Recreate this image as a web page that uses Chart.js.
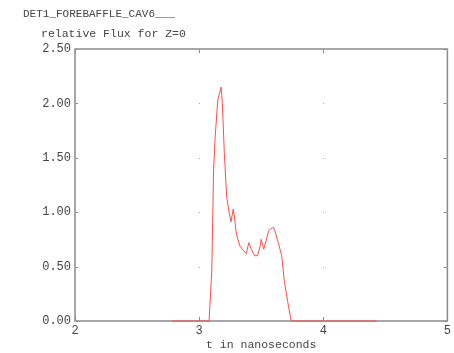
<!DOCTYPE html>
<html>
<head>
<meta charset="utf-8">
<script src="https://cdn.jsdelivr.net/npm/chart.js@4.4.1/dist/chart.umd.min.js"></script>
<style>
  html, body { margin: 0; padding: 0; background: #fff; }
  canvas { display: block; }
</style>
</head>
<body>
<canvas id="fluxChart" width="454" height="353"></canvas>
<script>
// values
var tValues = [2.78, 3.08, 3.102, 3.116, 3.129, 3.15, 3.177, 3.187, 3.203, 3.222, 3.24, 3.256, 3.275, 3.288, 3.30, 3.328, 3.355, 3.38, 3.40, 3.42, 3.447, 3.47, 3.49, 3.50, 3.52, 3.54, 3.56, 3.58, 3.60, 3.61, 3.63, 3.647, 3.665, 3.686, 3.713, 3.74, 3.745, 4.43];
var fluxValues = [0, 0, 0.46, 1.38, 1.69, 2.03, 2.15, 2.0, 1.54, 1.14, 1.01, 0.91, 1.03, 0.92, 0.80, 0.69, 0.65, 0.62, 0.72, 0.66, 0.60, 0.60, 0.68, 0.75, 0.66, 0.74, 0.83, 0.85, 0.86, 0.83, 0.75, 0.68, 0.60, 0.37, 0.18, 0.01, 0, 0];
var xTicks = [2, 3, 4, 5];
var yTicks = [0, 0.5, 1, 1.5, 2, 2.5];
var titleLines = ["DET1_FOREBAFFLE_CAV6___", "relative Flux for Z=0"];
var xLabel = "t in nanoseconds";

var FONT = "'Liberation Mono', 'DejaVu Sans Mono', monospace";
var TEXT = "#444";
var FRAME = "#8a8a8a";

var points = tValues.map(function (t, i) { return { x: t, y: fluxValues[i] }; });

// frame + small inward ticks, and the header text
var framePlugin = {
  id: "frame",
  beforeDatasetsDraw: function (chart) {
    var ctx = chart.ctx, a = chart.chartArea;
    var xs = chart.scales.x, ys = chart.scales.y;
    ctx.save();
    ctx.strokeStyle = FRAME;
    ctx.lineWidth = 1.5;
    ctx.strokeRect(a.left, a.top, a.right - a.left, a.bottom - a.top);
    ctx.lineWidth = 1;
    xTicks.forEach(function (v) {
      var px = Math.round(xs.getPixelForValue(v)) + 0.5;
      ctx.beginPath();
      ctx.moveTo(px, a.bottom); ctx.lineTo(px, a.bottom - 4);
      ctx.moveTo(px, a.top); ctx.lineTo(px, a.top + 4);
      ctx.stroke();
    });
    yTicks.forEach(function (v) {
      var py = Math.round(ys.getPixelForValue(v)) + 0.5;
      ctx.beginPath();
      ctx.moveTo(a.left, py); ctx.lineTo(a.left + 3, py);
      ctx.moveTo(a.right, py); ctx.lineTo(a.right - 4, py);
      ctx.stroke();
    });
    // faint dots at grid intersections
    ctx.fillStyle = "#aaa";
    xTicks.forEach(function (xv) {
      yTicks.forEach(function (yv) {
        var px = Math.round(xs.getPixelForValue(xv));
        var py = Math.round(ys.getPixelForValue(yv));
        ctx.fillRect(px, py, 1, 1);
      });
    });
    ctx.restore();
  },
  afterDraw: function (chart) {
    var ctx = chart.ctx;
    ctx.save();
    ctx.fillStyle = TEXT;
    ctx.font = "11px " + FONT;
    ctx.textBaseline = "alphabetic";
    ctx.fillText(titleLines[0], 23, 17);
    ctx.font = "11.5px " + FONT;
    ctx.fillText(titleLines[1], 41, 37);
    ctx.restore();
  }
};

new Chart(document.getElementById("fluxChart"), {
  type: "line",
  data: {
    datasets: [{
      data: points,
      borderColor: "#ff4c4c",
      borderWidth: 1,
      pointRadius: 0,
      tension: 0,
      fill: false,
      clip: 4
    }]
  },
  options: {
    responsive: false,
    animation: false,
    layout: { padding: { top: 49, right: 2, left: 0, bottom: 0 } },
    plugins: { legend: { display: false }, tooltip: { enabled: false } },
    scales: {
      x: {
        type: "linear",
        min: 2, max: 5,
        afterBuildTicks: function (s) { s.ticks = xTicks.map(function (v) { return { value: v }; }); },
        afterFit: function (s) { s.height = 32; },
        grid: { display: false, drawTicks: false },
        border: { display: false },
        ticks: { color: TEXT, font: { family: FONT, size: 12 }, padding: 3, maxRotation: 0 },
        title: { display: true, text: xLabel, color: TEXT, font: { family: FONT, size: 11.5 }, padding: { top: 0, bottom: 1 } }
      },
      y: {
        min: 0, max: 2.5,
        afterBuildTicks: function (s) { s.ticks = yTicks.map(function (v) { return { value: v }; }); },
        afterFit: function (s) { s.width = 75; },
        grid: { display: false, drawTicks: false },
        border: { display: false },
        ticks: {
          color: TEXT, font: { family: FONT, size: 12 }, padding: 4,
          callback: function (v) { return Number(v).toFixed(2); }
        }
      }
    }
  },
  plugins: [framePlugin]
});
</script>
</body>
</html>
